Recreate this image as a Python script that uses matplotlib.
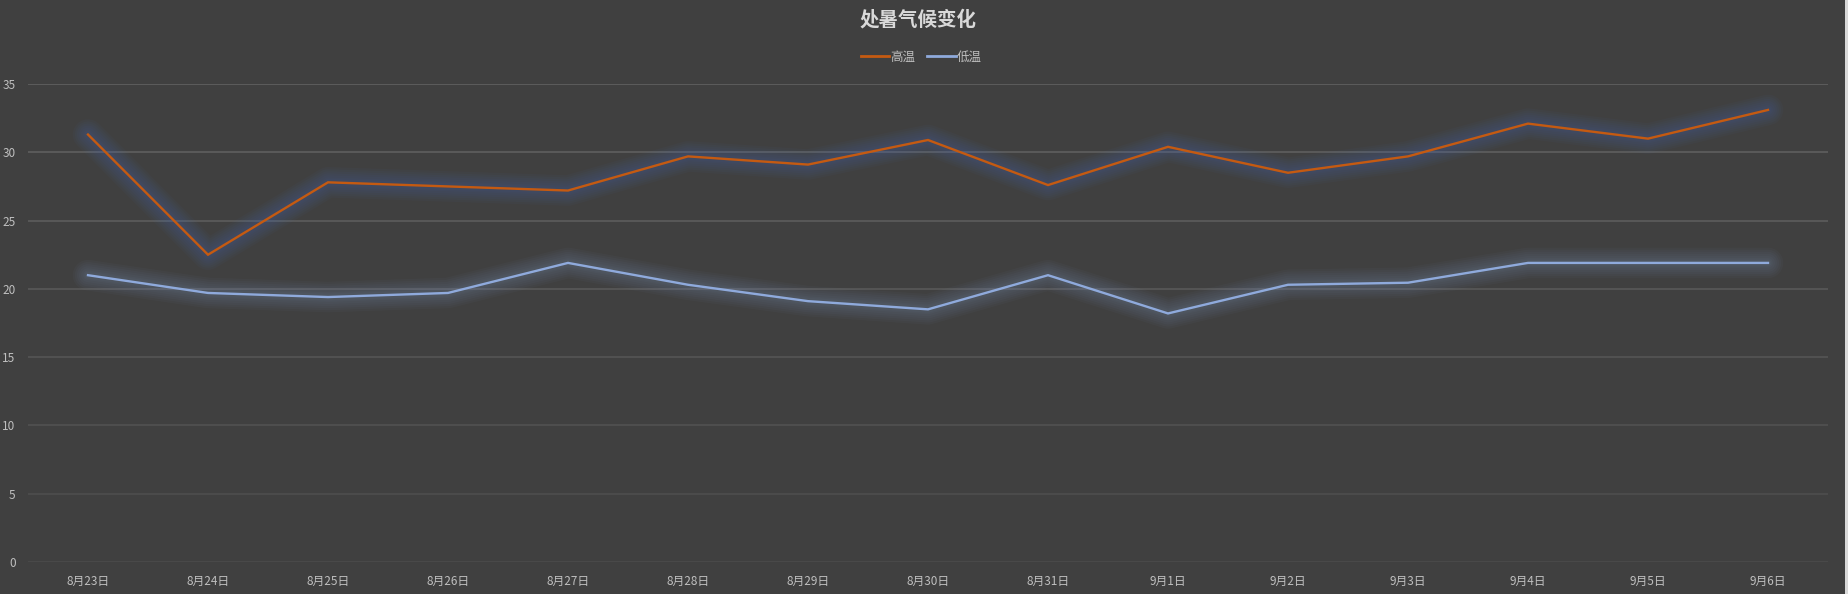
import matplotlib
matplotlib.use("Agg")
import matplotlib.pyplot as plt
import matplotlib.patheffects as pe
from matplotlib.patches import Rectangle

plt.rcParams['font.family'] = ['Noto Sans CJK SC', 'DejaVu Sans']

dates = ["8月23日", "8月24日", "8月25日", "8月26日", "8月27日", "8月28日", "8月29日",
         "8月30日", "8月31日", "9月1日", "9月2日", "9月3日", "9月4日", "9月5日", "9月6日"]
high = [31.3, 22.5, 27.8, 27.5, 27.2, 29.7, 29.1, 30.9, 27.6, 30.4, 28.5, 29.7, 32.1, 31.0, 33.1]
low = [21.0, 19.7, 19.4, 19.7, 21.9, 20.3, 19.1, 18.5, 21.0, 18.2, 20.3, 20.45, 21.9, 21.9, 21.9]
yticks = [0, 5, 10, 15, 20, 25, 30, 35]

BG = '#404040'
W, H = 1848, 594
fig = plt.figure(figsize=(W / 100, H / 100), dpi=100, facecolor=BG)
ax = fig.add_axes([28 / W, 1 - 562 / H, 1800 / W, (562 - 84) / H])
ax.set_facecolor(BG)

x = list(range(len(dates)))

grid_cols = ['#4a4a4a', '#4d4d4d', '#505050', '#535353', '#575757', '#5a5a5a', '#5c5c5c', '#5e5e5e']
for yv, gc in zip(yticks, grid_cols):
    ax.axhline(yv, color=gc, lw=1.3, zorder=1)


def glow(col, a):
    effects = []
    for w in (22, 19, 16, 13, 10, 7, 5):
        effects.append(pe.Stroke(linewidth=w, foreground=col, alpha=a,
                                 joinstyle='round', capstyle='round'))
    effects.append(pe.Normal())
    return effects


ax.plot(x, high, color='#C55A11', lw=1.7, label='高温', zorder=3,
        path_effects=glow('#4472C4', 0.045), solid_joinstyle='miter')
ax.plot(x, low, color='#8FAADC', lw=1.7, label='低温', zorder=3,
        path_effects=glow('#8FAADC', 0.035), solid_joinstyle='miter')

ax.set_xlim(-0.5, len(dates) - 0.5)
ax.set_ylim(0, 35)
ax.set_yticks(yticks)
ax.set_xticks(x)
ax.set_xticklabels(dates)
ax.tick_params(axis='both', length=0, colors='#bfbfbf', labelsize=8.5)
ax.tick_params(axis='y', pad=9)
ax.tick_params(axis='x', pad=9)
for s in ax.spines.values():
    s.set_visible(False)

fig.text(0.497, 1 - 20 / H, '处暑气候变化', ha='center', va='center',
         fontsize=14, fontweight='bold', color='#d9d9d9')

leg_handles = [plt.Line2D([], [], color='#C55A11', lw=2),
               plt.Line2D([], [], color='#8FAADC', lw=2)]
fig.legend(leg_handles, ['高温', '低温'], loc='center', bbox_to_anchor=(0.4985, 1 - 57 / H),
           ncol=2, frameon=False, fontsize=9, labelcolor='#bfbfbf',
           handlelength=2.3, handletextpad=0.1, columnspacing=0.9)

fig.patches.append(Rectangle((1845 / W, 0), 3 / W, 1, transform=fig.transFigure,
                             facecolor='#d9d9d9', edgecolor='none'))

fig.savefig('out.png', dpi=100, facecolor=BG)
